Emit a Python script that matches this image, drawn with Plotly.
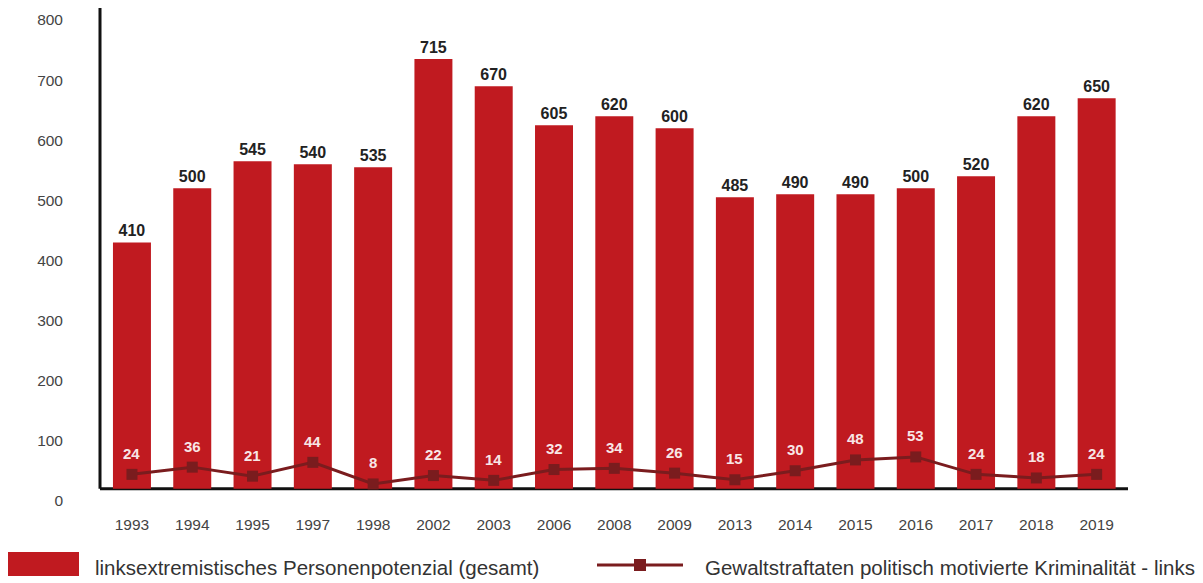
import plotly.graph_objects as go

years = ["1993", "1994", "1995", "1997", "1998", "2002", "2003", "2006", "2008",
         "2009", "2013", "2014", "2015", "2016", "2017", "2018", "2019"]
personen = [410, 500, 545, 540, 535, 715, 670, 605, 620, 600, 485, 490, 490, 500, 520, 620, 650]
gewalt = [24, 36, 21, 44, 8, 22, 14, 32, 34, 26, 15, 30, 48, 53, 24, 18, 24]
y_ticks = [0, 100, 200, 300, 400, 500, 600, 700, 800]

bar_name = "linksextremistisches Personenpotenzial (gesamt)"
line_name = "Gewaltstraftaten politisch motivierte Kriminalität - links"

BAR = "#C01A20"
LINE = "#7A1C1E"
FONT = "Liberation Sans, Arial, sans-serif"

fig = go.Figure()
fig.add_trace(go.Bar(
    x=years, y=personen, name=bar_name, marker=dict(color=BAR, line=dict(width=0)),
    width=0.63, text=personen, texttemplate="<b>%{y}</b>", textposition="outside",
    textfont=dict(size=16, color="#222222", family=FONT), cliponaxis=False,
))
fig.add_trace(go.Scatter(
    x=years, y=gewalt, name=line_name, mode="lines+markers",
    line=dict(color=LINE, width=3), marker=dict(symbol="square", size=11, color=LINE),
))
for i, v in enumerate(gewalt):
    fig.add_annotation(x=i, y=v, text=f"<b>{v}</b>", showarrow=False, yshift=21,
                       font=dict(size=15, color="#F8E6E6", family=FONT))

# offset tick labels as in the reference (labels sit ~20 units below the value)
fig.update_yaxes(
    range=[-22, 800], tickvals=[t - 20 for t in y_ticks], ticktext=[str(t) for t in y_ticks],
    showgrid=False, zeroline=False, showline=False, ticks="",
    tickfont=dict(size=15.5, color="#444444", family=FONT), ticklabelstandoff=36,
)
fig.update_xaxes(
    type="category", range=[-0.53, 16.52], showgrid=False, zeroline=False, showline=False, ticks="",
    tickfont=dict(size=15.5, color="#444444", family=FONT), ticklabelstandoff=11,
)

# axis lines
fig.add_shape(type="line", xref="paper", yref="y", x0=0, x1=0, y0=0, y1=800,
              line=dict(color="#111111", width=3), layer="above")
fig.add_shape(type="line", xref="paper", yref="y", x0=0, x1=1, y0=0, y1=0,
              line=dict(color="#111111", width=3), layer="below")

# custom legend
def px(xp):
    return (xp - 100) / 1028

def py(yp):
    return -(yp - 502) / 494

fig.add_shape(type="rect", xref="paper", yref="paper",
              x0=px(8), x1=px(79), y0=py(552), y1=py(576),
              fillcolor=BAR, line=dict(width=0))
fig.add_annotation(xref="paper", yref="paper", x=px(93), y=py(567),
                   xanchor="left", yanchor="middle", showarrow=False, text=bar_name,
                   font=dict(size=20.5, color="#333333", family=FONT))
fig.add_shape(type="line", xref="paper", yref="paper",
              x0=px(597), x1=px(683), y0=py(565), y1=py(565),
              line=dict(color=LINE, width=3))
fig.add_shape(type="rect", xref="paper", yref="paper",
              x0=px(634), x1=px(646), y0=py(559), y1=py(571),
              fillcolor=LINE, line=dict(width=0))
fig.add_annotation(xref="paper", yref="paper", x=px(703), y=py(567),
                   xanchor="left", yanchor="middle", showarrow=False, text=line_name,
                   font=dict(size=20.5, color="#333333", family=FONT))

fig.update_layout(
    width=1203, height=583, autosize=False,
    margin=dict(l=100, r=75, t=8, b=81),
    plot_bgcolor="white", paper_bgcolor="white", showlegend=False,
    font=dict(family=FONT),
)
fig.write_html("out.html")
